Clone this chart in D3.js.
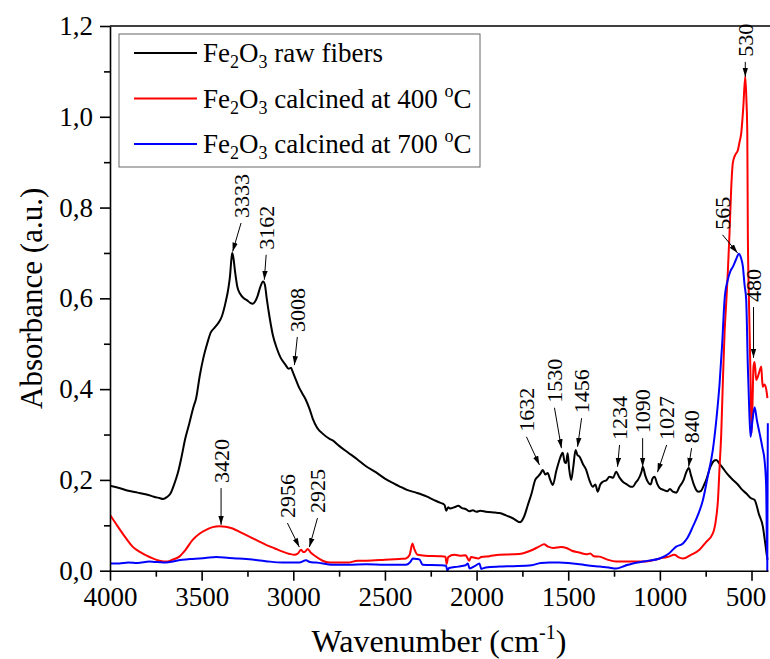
<!DOCTYPE html>
<html>
<head>
<meta charset="utf-8">
<script src="https://cdn.jsdelivr.net/npm/d3@7"></script>
<style>
  body { margin: 0; background: #fff; }
  svg { display: block; font-family: "Liberation Serif", "Times New Roman", serif; }
</style>
</head>
<body>
<script>
const width = 770;
const height = 659;
const margin = { top: 26, right: 2, bottom: 88.3, left: 110 };

// spectra, [wavenumber, absorbance]
const rawFibers = [
  [4000,0.187],[3950,0.182],[3900,0.176],[3850,0.172],[3800,0.168],[3760,0.163],[3730,0.160],[3710,0.158],
  [3690,0.162],[3670,0.170],[3650,0.19],[3630,0.215],[3610,0.25],[3590,0.29],[3567,0.325],[3545,0.36],
  [3530,0.38],[3510,0.43],[3490,0.47],[3470,0.50],[3450,0.525],[3430,0.535],[3410,0.545],[3390,0.56],
  [3370,0.59],[3355,0.62],[3345,0.65],[3338,0.685],[3333,0.700],[3327,0.69],[3318,0.66],[3305,0.625],
  [3290,0.61],[3270,0.60],[3250,0.595],[3235,0.59],[3222,0.588],[3210,0.592],[3195,0.605],[3180,0.625],
  [3165,0.637],[3155,0.63],[3145,0.60],[3130,0.56],[3112,0.52],[3090,0.49],[3070,0.47],[3045,0.455],
  [3025,0.445],[3012,0.447],[3005,0.44],[2990,0.425],[2970,0.405],[2950,0.39],[2930,0.375],[2910,0.355],
  [2894,0.335],[2870,0.315],[2840,0.302],[2800,0.29],[2785,0.287],[2750,0.275],[2700,0.26],[2650,0.245],
  [2603,0.23],[2550,0.217],[2500,0.203],[2450,0.192],[2421,0.186],[2380,0.178],[2330,0.172],[2300,0.168],
  [2270,0.163],[2240,0.157],[2200,0.15],[2175,0.145],[2165,0.132],[2155,0.14],[2145,0.137],[2120,0.14],
  [2100,0.143],[2080,0.138],[2060,0.136],[2040,0.131],[2020,0.133],[2000,0.130],[1980,0.132],[1950,0.13],
  [1900,0.128],[1875,0.127],[1840,0.122],[1800,0.115],[1763,0.107],[1740,0.12],[1720,0.145],[1700,0.17],
  [1680,0.2],[1666,0.207],[1650,0.215],[1639,0.222],[1625,0.212],[1612,0.215],[1598,0.2],[1584,0.189],
  [1565,0.22],[1548,0.244],[1538,0.255],[1530,0.26],[1520,0.24],[1512,0.237],[1503,0.259],[1495,0.225],
  [1484,0.2],[1472,0.23],[1460,0.266],[1450,0.255],[1438,0.251],[1420,0.235],[1402,0.222],[1385,0.2],
  [1366,0.185],[1352,0.19],[1339,0.174],[1325,0.19],[1311,0.196],[1290,0.2],[1275,0.207],[1255,0.205],
  [1239,0.218],[1220,0.205],[1202,0.196],[1180,0.19],[1160,0.185],[1148,0.185],[1130,0.195],[1120,0.2],
  [1100,0.218],[1093,0.229],[1080,0.21],[1066,0.196],[1050,0.19],[1040,0.203],[1029,0.207],[1015,0.192],
  [1001,0.182],[980,0.178],[960,0.175],[945,0.18],[929,0.174],[910,0.172],[893,0.185],[870,0.2],
  [855,0.218],[842,0.226],[830,0.21],[815,0.19],[802,0.178],[790,0.174],[775,0.176],[760,0.188],
  [747,0.2],[725,0.228],[705,0.242],[692,0.244],[675,0.236],[656,0.226],[630,0.212],[601,0.2],
  [575,0.19],[550,0.178],[528,0.17],[505,0.16],[483,0.156],[460,0.125],[438,0.097],[425,0.06],
  [415,0.03],[412,0.024]
];

const calcined400 = [
  [4000,0.123],[3970,0.105],[3945,0.09],[3910,0.07],[3877,0.053],[3830,0.04],[3800,0.033],[3767,0.027],
  [3730,0.022],[3694,0.02],[3660,0.024],[3622,0.031],[3590,0.045],[3549,0.068],[3510,0.082],[3476,0.09],
  [3440,0.096],[3403,0.098],[3370,0.097],[3331,0.093],[3290,0.085],[3240,0.075],[3190,0.065],[3149,0.057],
  [3100,0.049],[3058,0.042],[3020,0.037],[2994,0.035],[2975,0.038],[2957,0.046],[2945,0.041],[2935,0.042],
  [2921,0.048],[2905,0.04],[2876,0.031],[2840,0.022],[2803,0.018],[2700,0.018],[2650,0.022],[2603,0.022],
  [2500,0.024],[2420,0.026],[2385,0.027],[2365,0.035],[2350,0.06],[2340,0.048],[2321,0.035],[2280,0.033],
  [2200,0.032],[2170,0.031],[2163,0.015],[2155,0.03],[2121,0.035],[2090,0.033],[2060,0.034],[2040,0.022],
  [2030,0.03],[1990,0.027],[1975,0.03],[1930,0.032],[1875,0.035],[1800,0.036],[1750,0.038],[1700,0.045],
  [1660,0.053],[1632,0.058],[1610,0.053],[1580,0.05],[1540,0.052],[1510,0.05],[1480,0.044],[1440,0.04],
  [1400,0.036],[1380,0.038],[1360,0.032],[1329,0.031],[1290,0.025],[1238,0.02],[1150,0.02],[1093,0.02],
  [1050,0.022],[1001,0.027],[960,0.03],[920,0.035],[900,0.03],[874,0.027],[830,0.035],[784,0.046],
  [750,0.062],[711,0.082],[695,0.11],[683,0.156],[674,0.23],[665,0.303],[656,0.42],[647,0.523],
  [637,0.597],[629,0.66],[620,0.743],[611,0.84],[602,0.898],[590,0.915],[574,0.927],[565,0.945],
  [556,0.964],[545,1.02],[534,1.089],[528,1.04],[523,0.964],[520,0.743],[514,0.597],[505,0.42],
  [500,0.303],[495,0.36],[489,0.45],[483,0.46],[474,0.42],[465,0.428],[456,0.44],[447,0.45],
  [442,0.42],[438,0.405],[430,0.41],[420,0.40],[413,0.38]
];

const calcined700 = [
  [4000,0.016],[3950,0.016],[3900,0.018],[3850,0.017],[3785,0.02],[3740,0.019],[3694,0.018],[3650,0.021],
  [3604,0.024],[3550,0.026],[3480,0.028],[3421,0.03],[3350,0.028],[3300,0.027],[3240,0.025],[3150,0.021],
  [3058,0.018],[2967,0.018],[2930,0.023],[2910,0.019],[2876,0.018],[2785,0.013],[2700,0.013],[2603,0.014],
  [2500,0.013],[2385,0.013],[2360,0.02],[2348,0.027],[2330,0.026],[2312,0.025],[2294,0.013],[2200,0.012],
  [2166,0.011],[2160,0.0],[2150,0.006],[2100,0.009],[2060,0.012],[2048,0.016],[2038,0.005],[2010,0.01],
  [1984,0.016],[1975,0.004],[1950,0.007],[1875,0.009],[1800,0.01],[1700,0.012],[1650,0.017],[1600,0.018],
  [1550,0.018],[1500,0.017],[1450,0.015],[1400,0.012],[1329,0.009],[1280,0.007],[1238,0.005],[1190,0.011],
  [1148,0.016],[1080,0.021],[1001,0.027],[950,0.038],[911,0.053],[874,0.06],[850,0.072],[820,0.097],
  [790,0.125],[765,0.156],[740,0.205],[711,0.266],[690,0.34],[674,0.413],[660,0.5],[647,0.597],
  [630,0.64],[615,0.66],[601,0.67],[585,0.685],[569,0.698],[558,0.69],[547,0.67],[538,0.63],
  [529,0.597],[520,0.45],[512,0.35],[505,0.295],[495,0.33],[483,0.36],[470,0.33],[456,0.303],
  [440,0.27],[429,0.244],[420,0.185],[414,0.0],[411,0.325]
];

const seriesNames = ['raw fibers', 'calcined at 400', 'calcined at 700'];
const seriesColors = ['#000000', '#ff0000', '#0000ff'];

const xMajor = [4000, 3500, 3000, 2500, 2000, 1500, 1000, 500];
const xMinor = [3750, 3250, 2750, 2250, 1750, 1250, 750];
const yMajor = [0, 0.2, 0.4, 0.6, 0.8, 1.0, 1.2];
const yMinor = [0.1, 0.3, 0.5, 0.7, 0.9, 1.1];

// peak labels: [label, tip wavenumber, tip absorbance, tail wavenumber, tail absorbance]
const peaks = [
  ['3333', 3331, 0.703, 3285, 0.766],
  ['3162', 3158, 0.641, 3148, 0.696],
  ['3008', 2994, 0.453, 2978, 0.515],
  ['3420', 3394, 0.101, 3394, 0.182],
  ['2956', 2967, 0.052, 3032, 0.105],
  ['2925', 2912, 0.052, 2868, 0.116],
  ['1632', 1657, 0.233, 1728, 0.295],
  ['1530', 1537, 0.270, 1575, 0.359],
  ['1456', 1449, 0.273, 1427, 0.336],
  ['1234', 1231, 0.229, 1220, 0.277],
  ['1090', 1094, 0.229, 1094, 0.292],
  ['1027', 1013, 0.217, 963, 0.277],
  ['840', 843, 0.229, 827, 0.270],
  ['565', 576, 0.700, 658, 0.740],
  ['530', 534, 1.088, 534, 1.121],
  ['480', 489, 0.469, 489, 0.581]
];

const x = d3.scaleLinear()
  .domain([4000, 410])
  .range([margin.left, width - margin.right]);

const y = d3.scaleLinear()
  .domain([0, 1.2])
  .range([height - margin.bottom, margin.top]);

const line = d3.line()
  .curve(d3.curveMonotoneX)
  .x(d => x(d[0]))
  .y(d => y(d[1]));

const svg = d3.select('body')
  .append('svg')
  .attr('width', width)
  .attr('height', height);

svg.append('defs').append('clipPath')
  .attr('id', 'plot-clip')
  .append('rect')
  .attr('x', margin.left)
  .attr('y', margin.top - 2)
  .attr('width', width - margin.right - margin.left + 2)
  .attr('height', height - margin.bottom - margin.top + 4);

svg.select('defs').append('marker')
  .attr('id', 'arrow')
  .attr('viewBox', '0 0 10 6')
  .attr('refX', 10)
  .attr('refY', 3)
  .attr('markerWidth', 9)
  .attr('markerHeight', 6)
  .attr('markerUnits', 'userSpaceOnUse')
  .attr('orient', 'auto')
  .append('path')
  .attr('d', 'M0,0L10,3L0,6Z')
  .attr('fill', '#000');

// curves
const plot = svg.append('g').attr('clip-path', 'url(#plot-clip)');
[rawFibers, calcined400, calcined700].forEach((s, i) => {
  plot.append('path')
    .datum(s)
    .attr('fill', 'none')
    .attr('stroke', seriesColors[i])
    .attr('stroke-width', 2)
    .attr('stroke-linejoin', 'round')
    .attr('d', line);
});

// axes
const fmtY = d => d3.format('.1f')(d).replace('.', ',');

const xAxis = g => g
  .attr('transform', `translate(0,${height - margin.bottom})`)
  .call(d3.axisBottom(x).tickValues(xMajor).tickFormat(d3.format('d')).tickSize(10).tickSizeOuter(0).tickPadding(6))
  .call(g => g.selectAll('text').attr('font-size', 27).attr('font-family', 'Liberation Serif').attr('fill', '#000'))
  .call(g => g.select('.tick:last-of-type text').attr('dx', -6));

const xAxisMinor = g => g
  .attr('transform', `translate(0,${height - margin.bottom})`)
  .call(d3.axisBottom(x).tickValues(xMinor).tickSize(6).tickFormat(''))
  .call(g => g.select('.domain').remove());

const yAxis = g => g
  .attr('transform', `translate(${margin.left},0)`)
  .call(d3.axisLeft(y).tickValues(yMajor).tickFormat(fmtY).tickSize(10).tickSizeOuter(0).tickPadding(7))
  .call(g => g.selectAll('text').attr('font-size', 27).attr('font-family', 'Liberation Serif').attr('fill', '#000'));

const yAxisMinor = g => g
  .attr('transform', `translate(${margin.left},0)`)
  .call(d3.axisLeft(y).tickValues(yMinor).tickSize(6).tickFormat(''))
  .call(g => g.select('.domain').remove());

[xAxis, xAxisMinor, yAxis, yAxisMinor].forEach(a => {
  svg.append('g').call(a)
    .call(g => g.selectAll('line, path').attr('stroke', '#000').attr('stroke-width', 1.6));
});

// frame top
svg.append('path')
  .attr('d', `M${x(4000)},${y(1.2)}H${width}`)
  .attr('fill', 'none')
  .attr('stroke', '#000')
  .attr('stroke-width', 1.6);

// axis titles
svg.append('text')
  .attr('transform', `translate(42,${(y(0) + y(1.2)) / 2}) rotate(-90)`)
  .attr('text-anchor', 'middle')
  .attr('font-size', 31)
  .text('Absorbance (a.u.)');

const xt = svg.append('text')
  .attr('x', (x(4000) + x(410)) / 2)
  .attr('y', 652)
  .attr('text-anchor', 'middle')
  .attr('font-size', 32);
xt.append('tspan').text('Wavenumber (cm');
xt.append('tspan').attr('font-size', 20).attr('dy', -13).text('-1');
xt.append('tspan').attr('dy', 13).text(')');

// peak annotations
const ann = svg.append('g');
peaks.forEach(([label, tw, ta, sw, sa]) => {
  ann.append('line')
    .attr('x1', x(sw)).attr('y1', y(sa))
    .attr('x2', x(tw)).attr('y2', y(ta))
    .attr('stroke', '#000')
    .attr('stroke-width', 1)
    .attr('marker-end', 'url(#arrow)');
  ann.append('text')
    .attr('transform', `translate(${x(sw)},${y(sa) - 5}) rotate(-90)`)
    .attr('text-anchor', 'start')
    .attr('dominant-baseline', 'central')
    .attr('font-size', 22)
    .text(label);
});

// legend
const legend = svg.append('g');
legend.append('rect')
  .attr('x', 119).attr('y', 34)
  .attr('width', 361).attr('height', 133)
  .attr('fill', '#fff')
  .attr('stroke', '#666')
  .attr('stroke-width', 1);

seriesNames.forEach((name, i) => {
  const ly = 53 + i * 45.5;
  legend.append('line')
    .attr('x1', 134).attr('x2', 197)
    .attr('y1', ly).attr('y2', ly)
    .attr('stroke', seriesColors[i])
    .attr('stroke-width', 2);
  const t = legend.append('text')
    .attr('x', 203)
    .attr('y', ly + 9)
    .attr('font-size', 27);
  t.append('tspan').text('Fe');
  t.append('tspan').attr('font-size', 18).attr('dy', 6).text('2');
  t.append('tspan').attr('dy', -6).text('O');
  t.append('tspan').attr('font-size', 18).attr('dy', 6).text('3');
  t.append('tspan').attr('dy', -6).text(' ' + name);
  if (i > 0) {
    t.append('tspan').text(' ');
    t.append('tspan').attr('font-size', 18).attr('dy', -11).text('o');
    t.append('tspan').attr('dy', 11).text('C');
  }
});

svg.node();
</script>
</body>
</html>
